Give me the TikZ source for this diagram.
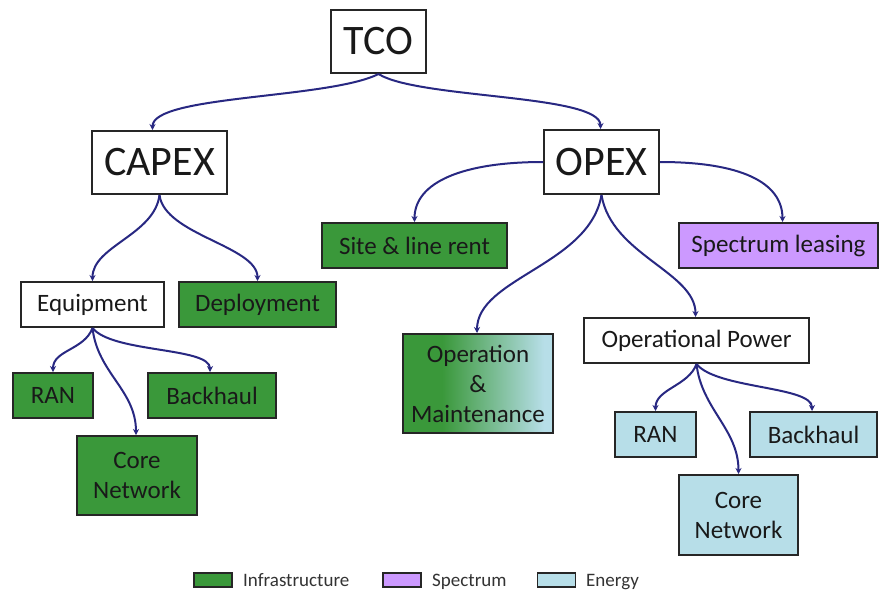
\documentclass[tikz,border=0pt]{standalone}
\usepackage{fontspec}
\setmainfont{Carlito}
\usetikzlibrary{arrows.meta}
\definecolor{infra}{RGB}{58,152,58}
\definecolor{specc}{RGB}{204,153,255}
\definecolor{energy}{RGB}{183,222,232}
\definecolor{connc}{RGB}{40,40,130}
\pgfdeclarehorizontalshading{omshade}{100bp}{color(0bp)=(infra); color(38bp)=(infra); color(72bp)=(energy); color(100bp)=(energy)}
\begin{document}
\begin{tikzpicture}[x=1pt,y=-1pt,
  box/.style={draw=black!85, line width=2pt, inner sep=0pt, align=center, text=black!90,
    font=\fontsize{25}{30}\selectfont},
  bigbox/.style={box, font=\fontsize{42}{50}\selectfont},
  conn/.style={draw=connc, line width=2pt, -{Stealth[length=6pt,width=6pt]}},
  legbox/.style={draw=black!85, line width=1.5pt, minimum width=38pt, minimum height=14pt, inner sep=0pt},
  legtext/.style={anchor=base west, inner sep=0pt, text=black!80, font=\fontsize{19}{22}\selectfont}]
\fill[white] (0,0) rectangle (880,598);
\useasboundingbox (0,0) rectangle (880,598);

% nodes
\node[bigbox, fill=white, minimum width=95pt, minimum height=63pt] (tco) at (378.5,41.5) {TCO};
\node[bigbox, fill=white, minimum width=135pt, minimum height=63pt] (capex) at (159.5,162.5) {CAPEX};
\node[bigbox, fill=white, minimum width=115pt, minimum height=64pt] (opex) at (601.5,162) {OPEX};

\node[box, fill=infra, minimum width=185pt, minimum height=45pt] (site) at (414.5,245.5) {Site \& line rent};
\node[box, fill=specc, minimum width=199pt, minimum height=45pt] (spec) at (778.5,245.5) {Spectrum leasing};

\node[box, fill=white, minimum width=143pt, minimum height=45pt] (equip) at (92.5,304.5) {Equipment};
\node[box, fill=infra, minimum width=157pt, minimum height=45pt] (deploy) at (257.5,304.5) {Deployment};

\node[box, shading=omshade, minimum width=150pt, minimum height=99pt] (om) at (478,383.5) {Operation\\\&\\Maintenance};
\node[box, fill=white, minimum width=225pt, minimum height=45pt] (oppow) at (696.5,340.5) {Operational Power};

\node[box, fill=infra, minimum width=80pt, minimum height=45pt] (ranL) at (53,395.5) {RAN};
\node[box, fill=infra, minimum width=128pt, minimum height=45pt] (bhL) at (212,395.5) {Backhaul};
\node[box, fill=infra, minimum width=120pt, minimum height=79pt] (coreL) at (137,475.5) {Core\\Network};

\node[box, fill=energy, minimum width=81pt, minimum height=45pt] (ranR) at (655.5,434.5) {RAN};
\node[box, fill=energy, minimum width=127pt, minimum height=45pt] (bhR) at (813.5,434.5) {Backhaul};
\node[box, fill=energy, minimum width=119pt, minimum height=80pt] (coreR) at (738.5,515) {Core\\Network};

% connectors
\draw[conn] (tco.south) .. controls +(-50,25) and +(0,-35) .. ([xshift=-7pt]capex.north);
\draw[conn] (tco.south) .. controls +(40,25) and +(0,-35) .. ([xshift=-1pt]opex.north);
\draw[conn] (opex.west) .. controls +(-80,0) and +(0,-40) .. (site.north);
\draw[conn] (opex.east) .. controls +(80,0) and +(0,-40) .. ([xshift=4pt]spec.north);
\draw[conn] (opex.south) .. controls +(-12,70) and +(0,-55) .. ([xshift=-1pt]om.north);
\draw[conn] (opex.south) .. controls +(10,60) and +(0,-45) .. ([xshift=-1pt]oppow.north);
\draw[conn] (capex.south) .. controls +(-5,40) and +(0,-35) .. (equip.north);
\draw[conn] (capex.south) .. controls +(5,40) and +(0,-35) .. (deploy.north);
\draw[conn] (equip.south) .. controls +(-8,22) and +(0,-22) .. (ranL.north);
\draw[conn] (equip.south) .. controls +(5,45) and +(0,-45) .. ([xshift=-1pt]coreL.north);
\draw[conn] (equip.south) .. controls +(20,25) and +(0,-25) .. ([xshift=-2pt]bhL.north);
\draw[conn] (oppow.south) .. controls +(-8,22) and +(0,-22) .. (ranR.north);
\draw[conn] (oppow.south) .. controls +(5,45) and +(0,-45) .. (coreR.north);
\draw[conn] (oppow.south) .. controls +(20,25) and +(0,-25) .. ([xshift=-1.5pt]bhR.north);

% legend
\node[legbox, fill=infra] (lg1) at (213,580) {};
\node[legtext] (lt1) at (243,586) {Infrastructure};
\node[legbox, fill=specc] (lg2) at (402,580) {};
\node[legtext] (lt2) at (432,586) {Spectrum};
\node[legbox, fill=energy] (lg3) at (556.5,580) {};
\node[legtext] (lt3) at (586,586) {Energy};
\end{tikzpicture}
\end{document}
